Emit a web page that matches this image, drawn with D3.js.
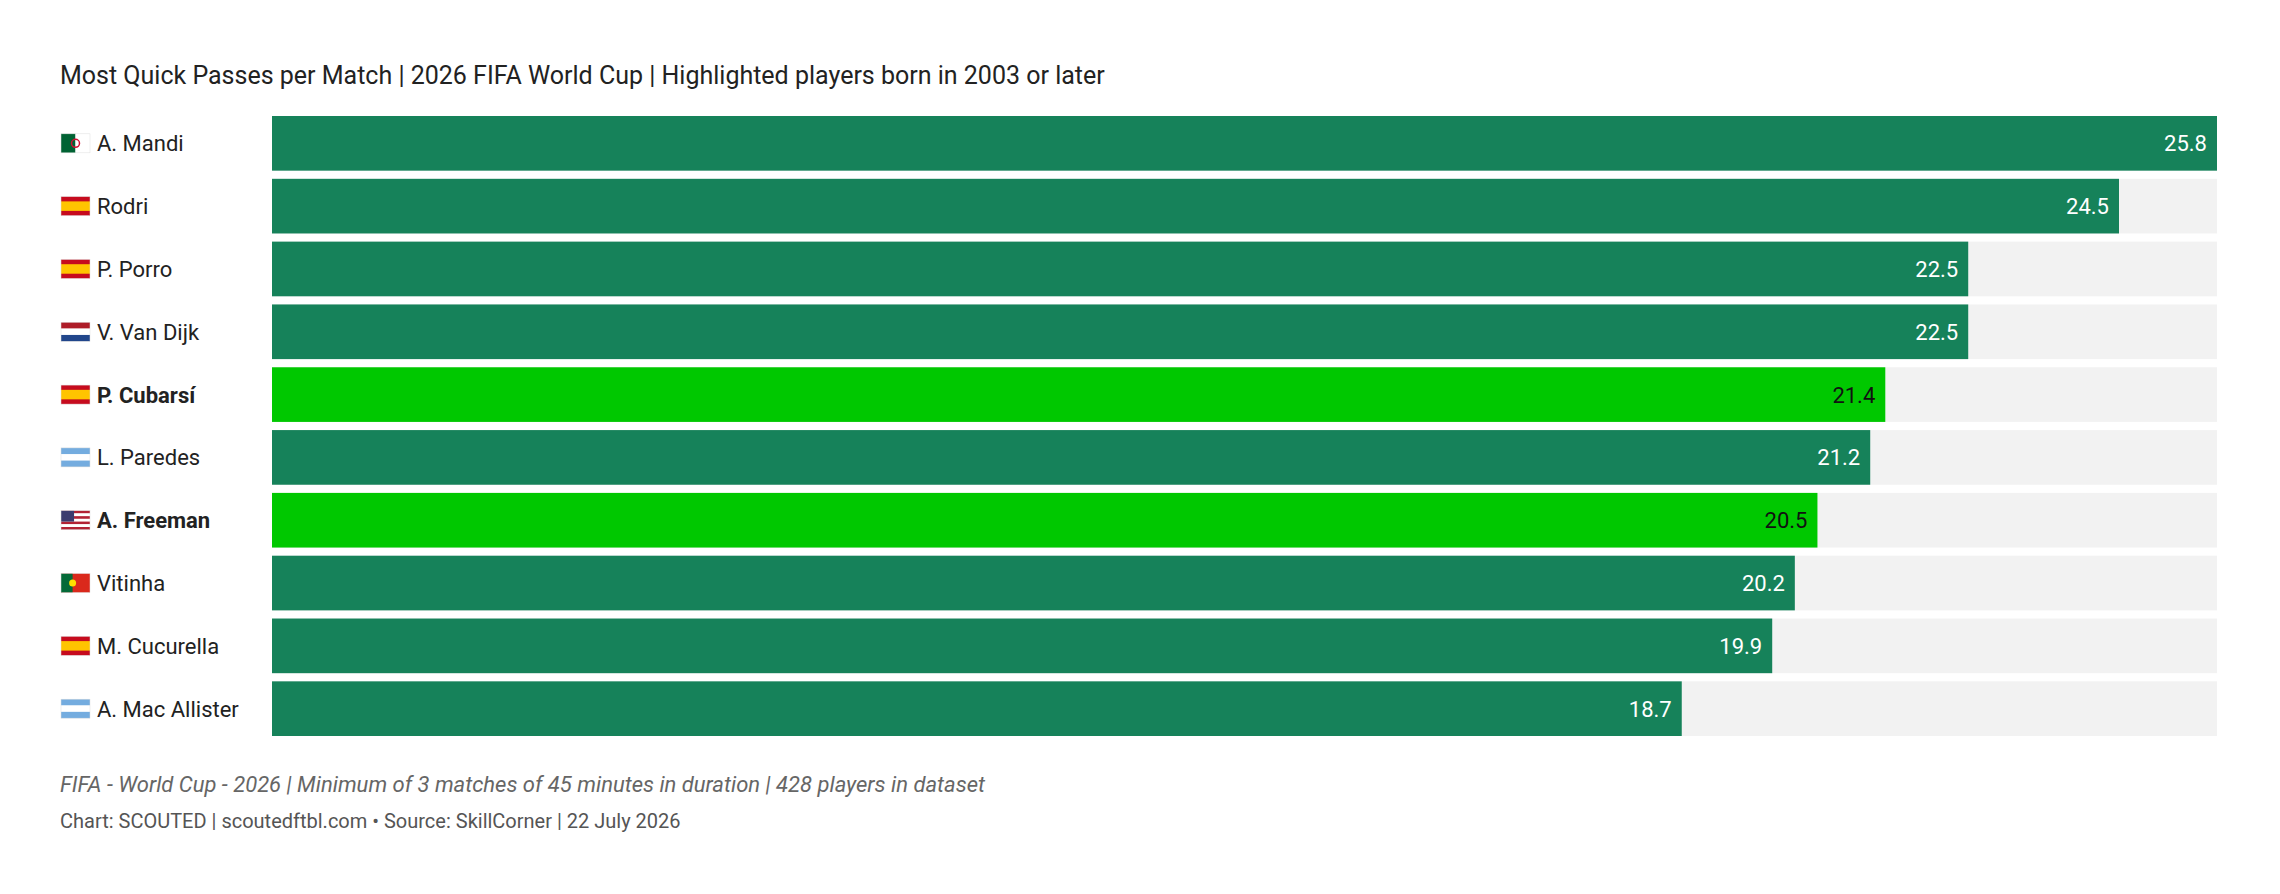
<!DOCTYPE html>
<html><head><meta charset="utf-8">
<script src="https://cdn.jsdelivr.net/npm/d3@7"></script>
<style>body{margin:0;background:#fff;font-family:Roboto,sans-serif}</style>
</head><body>
<script>
let players = ["A. Mandi","Rodri","P. Porro","V. Van Dijk","P. Cubarsí","L. Paredes","A. Freeman","Vitinha","M. Cucurella","A. Mac Allister"];
let values = [25.8,24.5,22.5,22.5,21.4,21.2,20.5,20.2,19.9,18.7];
let countries = ["ALG","ESP","ESP","NED","ESP","ARG","USA","POR","ESP","ARG"];
let young = [false,false,false,false,true,false,true,false,false,false];

const W = 2280, H = 894;
const svg = d3.select("body").append("svg").attr("width", W).attr("height", H);

svg.append("text").attr("x", 60).attr("y", 84).attr("font-size", 25).attr("fill", "#222")
  .text("Most Quick Passes per Match | 2026 FIFA World Cup | Highlighted players born in 2003 or later");

const x = d3.scaleLinear().domain([0, d3.max(values)]).range([272, 2217]);
const y = d3.scaleBand().domain(players).range([116, 736]).paddingInner(0.13).paddingOuter(0);

const rows = svg.selectAll("g.row").data(players).enter().append("g")
  .attr("transform", d => `translate(0,${y(d)})`);

rows.append("rect").attr("x", x(0)).attr("width", x.range()[1] - x(0))
  .attr("height", y.bandwidth()).attr("fill", "#f2f2f2");
rows.append("rect").attr("x", x(0)).attr("width", (d, i) => x(values[i]) - x(0))
  .attr("height", y.bandwidth()).attr("fill", (d, i) => young[i] ? "#00c800" : "#16825a");
rows.append("text").attr("x", (d, i) => x(values[i]) - 10).attr("y", y.bandwidth() / 2 + 8)
  .attr("text-anchor", "end").attr("font-size", 22)
  .attr("fill", (d, i) => young[i] ? "#111" : "#fff")
  .text((d, i) => values[i].toFixed(1));
rows.append("text").attr("x", 97).attr("y", y.bandwidth() / 2 + 8).attr("font-size", 22)
  .attr("fill", "#222").attr("font-weight", (d, i) => young[i] ? "bold" : "normal")
  .text(d => d);

// flags
const fw = 29, fh = 19;
function stripes(g, cols, vertical) {
  const n = cols.length;
  cols.forEach((c, k) => g.append("rect")
    .attr("x", vertical ? k * fw / n : 0).attr("y", vertical ? 0 : k * fh / n)
    .attr("width", vertical ? fw / n : fw).attr("height", vertical ? fh : fh / n).attr("fill", c));
}
rows.each(function (d, i) {
  const g = d3.select(this).append("g")
    .attr("transform", `translate(61,${y.bandwidth() / 2 - fh / 2})`);
  const c = countries[i];
  if (c === "ALG") { stripes(g, ["#006233", "#fff"], true);
    g.append("circle").attr("cx", fw / 2).attr("cy", fh / 2).attr("r", 4).attr("fill", "none").attr("stroke", "#d21034").attr("stroke-width", 1.5); }
  if (c === "ESP") { g.append("rect").attr("width", fw).attr("height", fh).attr("fill", "#c60b1e");
    g.append("rect").attr("y", fh / 4).attr("width", fw).attr("height", fh / 2).attr("fill", "#ffc400"); }
  if (c === "NED") stripes(g, ["#ae1c28", "#fff", "#21468b"], false);
  if (c === "ARG") stripes(g, ["#74acdf", "#fff", "#74acdf"], false);
  if (c === "POR") { g.append("rect").attr("width", fw).attr("height", fh).attr("fill", "#da291c");
    g.append("rect").attr("width", fw * 0.4).attr("height", fh).attr("fill", "#046a38");
    g.append("circle").attr("cx", fw * 0.4).attr("cy", fh / 2).attr("r", 3.5).attr("fill", "#ffe000"); }
  if (c === "USA") { stripes(g, d3.range(7).map(k => k % 2 ? "#fff" : "#b22234"), false);
    g.append("rect").attr("width", fw * 0.45).attr("height", fh * 4 / 7).attr("fill", "#3c3b6e"); }
  g.append("rect").attr("width", fw).attr("height", fh).attr("fill", "none").attr("stroke", "#ddd").attr("stroke-width", 0.5);
});

svg.append("text").attr("x", 60).attr("y", 792).attr("font-size", 22).attr("font-style", "italic").attr("fill", "#666")
  .text("FIFA - World Cup - 2026 | Minimum of 3 matches of 45 minutes in duration | 428 players in dataset");
svg.append("text").attr("x", 60).attr("y", 828).attr("font-size", 20).attr("fill", "#555")
  .text("Chart: SCOUTED | scoutedftbl.com • Source: SkillCorner | 22 July 2026");
</script>
</body></html>
